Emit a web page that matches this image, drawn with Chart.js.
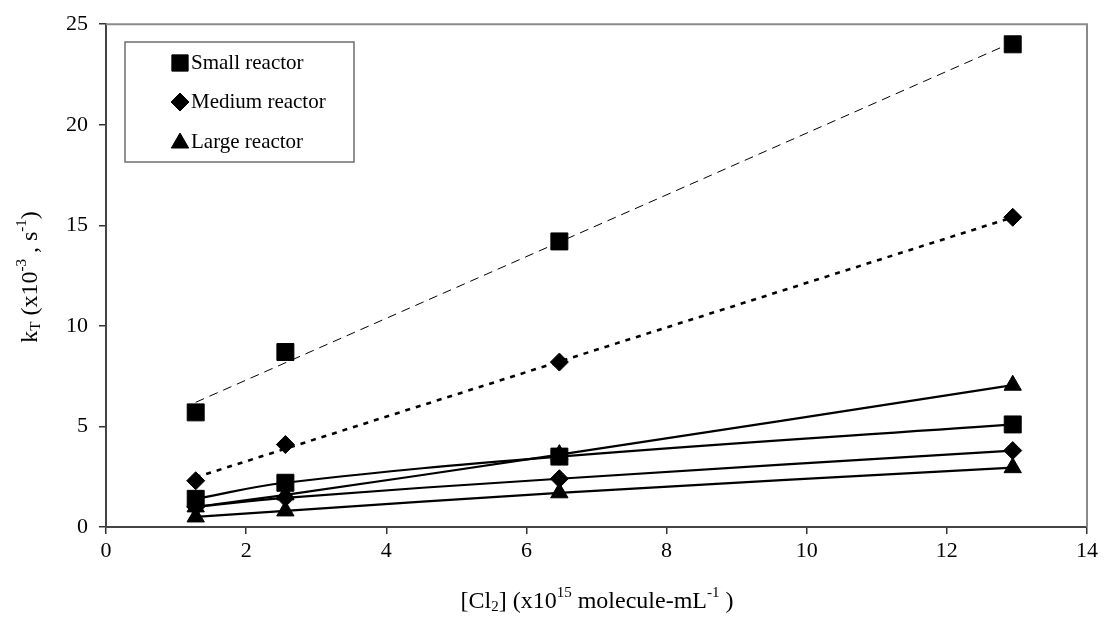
<!DOCTYPE html>
<html>
<head>
<meta charset="utf-8">
<script src="https://cdn.jsdelivr.net/npm/chart.js@4"></script>
<style>
    body{margin:0;background:#fff;}
    #wrap{width:1106px;height:631px;}
</style>
</head>
<body>
<div id="wrap"><canvas id="myChart" width="1106" height="631"></canvas></div>
<script>
// [Cl2] values (x10^15 molecule/mL)
const concentrations = [1.28, 2.56, 6.47, 12.94];

// markers
const smallReactor = [5.7, 8.7, 14.2, 24.0];
const mediumReactor = [2.3, 4.1, 8.2, 15.4];
const largeReactor = [1.0, 1.6, 3.6, 7.05];

// lower solid curves
const smallLow = [1.4, 2.2, 3.5, 5.1];
const mediumLow = [1.0, 1.45, 2.4, 3.8];
const largeLow = [0.5, 0.8, 1.7, 2.95];

// linear trend lines (end points)
const trendX = [1.28, 12.94];
const smallTrend = [6.2, 24.1];
const mediumTrend = [2.47, 15.4];

const xTicks = [0, 2, 4, 6, 8, 10, 12, 14];
const yTicks = [0, 5, 10, 15, 20, 25];

const legendLabels = ['Small reactor', 'Medium reactor', 'Large reactor'];

const SERIF = '"Liberation Serif", "Times New Roman", serif';

// marker sizes
const SQ_R = 12, DIA_R = 9, TRI_R = 10;

function pts(xs, ys){
    return xs.map((x, i)=>({x: x, y: ys[i]}));
}

// draws text with sub/superscript parts, centred on 0,0
function drawRich(ctx, parts, size){
    let w = 0;
    parts.forEach(p=>{
        const fs = p.s === 'n' ? size : Math.round(size * 0.62);
        ctx.font = fs + 'px ' + SERIF;
        p.w = ctx.measureText(p.t).width;
        p.fs = fs;
        w += p.w;
    });
    let x = -w / 2;
    parts.forEach(p=>{
        ctx.font = p.fs + 'px ' + SERIF;
        let dy = 0;
        if (p.s === 'sup') dy = -size * 0.36;
        if (p.s === 'sub') dy = size * 0.2;
        ctx.fillText(p.t, x, dy);
        x += p.w;
    });
}

const extrasPlugin = {
    id: 'extras',
    beforeDatasetsDraw(chart){
        const {ctx, chartArea: a} = chart;
        ctx.save();
        ctx.strokeStyle = '#8a8a8a';
        ctx.lineWidth = 2;
        ctx.beginPath();
        ctx.moveTo(a.left, a.top);
        ctx.lineTo(a.right, a.top);
        ctx.lineTo(a.right, a.bottom);
        ctx.stroke();
        ctx.restore();
    },
    afterDraw(chart){
        const {ctx} = chart;
        ctx.save();
        ctx.fillStyle = '#000';
        ctx.textBaseline = 'middle';

        // x title
        ctx.save();
        ctx.translate(597, 602);
        drawRich(ctx, [
            {t:'[Cl', s:'n'}, {t:'2', s:'sub'}, {t:'] (x10', s:'n'}, {t:'15', s:'sup'},
            {t:' molecule-mL', s:'n'}, {t:'-1', s:'sup'}, {t:' )', s:'n'}
        ], 24);
        ctx.restore();

        // y title
        ctx.save();
        ctx.translate(31, 277);
        ctx.rotate(-Math.PI / 2);
        drawRich(ctx, [
            {t:'k', s:'n'}, {t:'T', s:'sub'}, {t:' (x10', s:'n'}, {t:'-3', s:'sup'},
            {t:' , s', s:'n'}, {t:'-1', s:'sup'}, {t:')', s:'n'}
        ], 24);
        ctx.restore();

        // legend box
        ctx.strokeStyle = '#6e6e6e';
        ctx.lineWidth = 1.5;
        ctx.fillStyle = '#fff';
        ctx.fillRect(125, 42, 229, 120);
        ctx.strokeRect(125, 42, 229, 120);
        const styles = [
            {pointStyle:'rect', radius:SQ_R - 0.5},
            {pointStyle:'rectRot', radius:DIA_R},
            {pointStyle:'triangle', radius:TRI_R}
        ];
        const rows = [63, 102, 142];
        rows.forEach((y, i)=>{
            ctx.fillStyle = '#000';
            ctx.strokeStyle = '#000';
            ctx.lineWidth = 1;
            Chart.helpers.drawPoint(ctx, {pointStyle: styles[i].pointStyle, radius: styles[i].radius, rotation: 0, borderWidth: 1}, 180, y + (i === 2 ? 1 : 0));
            ctx.fillStyle = '#000';
            ctx.font = '21px ' + SERIF;
            ctx.fillText(legendLabels[i], 191, y);
        });
        ctx.restore();
    }
};

class reactorChart{
    #chart = null;
    constructor(canvas){
        this.#createChart(canvas);
    }
    #markers(label, data, style, r){
        return {
            label: label, data: pts(concentrations, data), showLine: false,
            pointStyle: style, pointRadius: r, pointHoverRadius: r,
            backgroundColor: '#000', borderColor: '#000', borderWidth: 1, order: 0
        };
    }
    #curve(data, style, r){
        return {
            label: '', data: pts(concentrations, data), showLine: true,
            borderColor: '#000', borderWidth: 2.2, tension: 0.4,
            pointStyle: style, pointRadius: r, pointHoverRadius: r,
            pointBackgroundColor: '#000', pointBorderColor: '#000', pointBorderWidth: 1,
            backgroundColor: '#000', fill: false, order: 1
        };
    }
    #trend(xs, ys, width, dash){
        return {
            label: '', data: pts(xs, ys), showLine: true,
            borderColor: '#000', borderWidth: width, borderDash: dash,
            pointRadius: 0, fill: false, order: 2
        };
    }
    #createChart(canvas){
        const ctx = canvas.getContext('2d');
        const tickFont = {family: SERIF, size: 22};
        this.#chart = new Chart(ctx, {
            type: 'scatter',
            data: {
                datasets: [
                    this.#trend(trendX, smallTrend, 1, [9, 6]),
                    this.#trend(trendX, mediumTrend, 2.6, [5, 6]),
                    this.#curve(largeReactor, 'triangle', TRI_R),
                    this.#curve(smallLow, 'rect', SQ_R),
                    this.#curve(mediumLow, 'rectRot', DIA_R),
                    this.#curve(largeLow, 'triangle', TRI_R),
                    this.#markers(legendLabels[0], smallReactor, 'rect', SQ_R),
                    this.#markers(legendLabels[1], mediumReactor, 'rectRot', DIA_R)
                ]
            },
            options: {
                responsive: false,
                animation: false,
                layout: {padding: {top: 21, right: 19, left: 0, bottom: 0}},
                plugins: {
                    legend: {display: false},
                    tooltip: {enabled: false},
                    title: {display: false}
                },
                scales: {
                    x: {
                        type: 'linear', min: 0, max: 14,
                        afterBuildTicks: (s)=>{ s.ticks = xTicks.map(v=>({value: v})); },
                        afterFit: (s)=>{ s.height = 104; },
                        ticks: {font: tickFont, color: '#000', padding: 4, maxRotation: 0},
                        grid: {drawOnChartArea: false, drawTicks: true, tickLength: 7, color: '#333', lineWidth: 1.5},
                        border: {display: true, color: '#444', width: 2}
                    },
                    y: {
                        type: 'linear', min: 0, max: 25,
                        afterBuildTicks: (s)=>{ s.ticks = yTicks.map(v=>({value: v})); },
                        afterFit: (s)=>{ s.width = 106; },
                        ticks: {font: tickFont, color: '#000', padding: 11},
                        grid: {drawOnChartArea: false, drawTicks: true, tickLength: 7, color: '#333', lineWidth: 1.5},
                        border: {display: true, color: '#444', width: 2}
                    }
                }
            },
            plugins: [extrasPlugin]
        });
    }
}

document.addEventListener('DOMContentLoaded', ()=>{
    new reactorChart(document.getElementById('myChart'));
});
</script>
</body>
</html>
